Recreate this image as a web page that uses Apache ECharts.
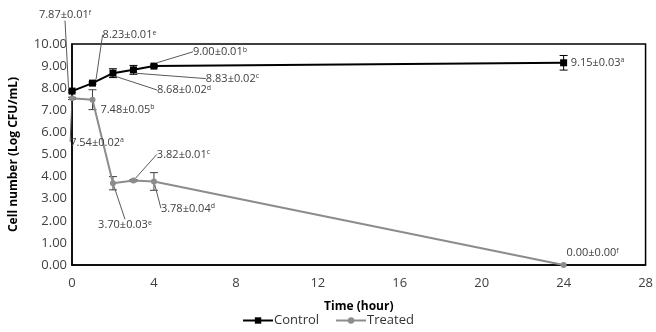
<!DOCTYPE html>
<html>
<head>
<meta charset="utf-8">
<script src="https://cdn.jsdelivr.net/npm/echarts@6/dist/echarts.min.js"></script>
<style>
  html, body { margin: 0; padding: 0; background: #fff; }
  #chart { width: 656px; height: 332px; }
</style>
</head>
<body>
<div id="chart"></div>
<script>
// time points (hour)
const hours = [0, 1, 2, 3, 4, 24]

// Control
const controlValues = [7.87, 8.23, 8.68, 8.83, 9.00, 9.15]
const controlErr = [0.05, 0.05, 0.2, 0.2, 0.05, 0.33]
const controlLabels = ['7.87±0.01', '8.23±0.01', '8.68±0.02', '8.83±0.02', '9.00±0.01', '9.15±0.03']
const controlLetters = ['f', 'e', 'd', 'c', 'b', 'a']

// Treated
const treatedValues = [7.54, 7.48, 3.70, 3.82, 3.78, 0.00]
const treatedErr = [0.05, 0.45, 0.3, 0.05, 0.4, 0]
const treatedLabels = ['7.54±0.02', '7.48±0.05', '3.70±0.03', '3.82±0.01', '3.78±0.04', '0.00±0.00']
const treatedLetters = ['a', 'b', 'e', 'c', 'd', 'f']

// label offsets from the point (px) - layout only
const controlOffsets = [[-7, -76], [37, -48], [71, 17], [99, 9], [66, -14], [34, 0]]
const treatedOffsets = [[25, 44], [35, 10], [12, 42], [50, -26], [34, 27], [29, -12]]
const controlLeader = [true, true, true, true, true, false]
const treatedLeader = [true, false, true, true, true, false]

const FONT = 'Open Sans'
const textColor = '#404040'

function buildData(values, labels, letters, leader) {
  return values.map((v, i) => ({
    value: [hours[i], v],
    label: {
      formatter: '{v|' + labels[i] + '}{s|' + letters[i] + '}'
    },
    labelLine: { show: leader[i] }
  }))
}

function errorSeries(name, values, errs, color) {
  return {
    name: name + ' err',
    type: 'custom',
    z: 1,
    silent: true,
    data: values.map((v, i) => [hours[i], v, errs[i]]),
    renderItem(params, api) {
      const x = api.value(0)
      const y = api.value(1)
      const e = api.value(2)
      if (!e) return null
      const hi = api.coord([x, y + e])
      const lo = api.coord([x, y - e])
      const w = 4
      const style = { stroke: color, lineWidth: 1 }
      return {
        type: 'group',
        children: [
          { type: 'line', shape: { x1: hi[0], y1: hi[1], x2: lo[0], y2: lo[1] }, style },
          { type: 'line', shape: { x1: hi[0] - w, y1: hi[1], x2: hi[0] + w, y2: hi[1] }, style },
          { type: 'line', shape: { x1: lo[0] - w, y1: lo[1], x2: lo[0] + w, y2: lo[1] }, style }
        ]
      }
    }
  }
}

function labelStyle() {
  return {
    show: true,
    position: 'inside',
    color: textColor,
    fontFamily: FONT,
    rich: {
      v: { fontSize: 11, fontFamily: FONT, color: textColor },
      s: { fontSize: 7, fontFamily: FONT, color: textColor, verticalAlign: 'top', padding: [0, 0, 5, 0] }
    }
  }
}

const chart = echarts.init(document.getElementById('chart'))

const option = {
  animation: false,
  textStyle: { fontFamily: FONT },
  grid: { left: 72, right: 8, top: 44, bottom: 67, show: true, borderColor: '#000', borderWidth: 1.5 },
  legend: {
    bottom: 0,
    left: 'center',
    itemWidth: 30,
    itemHeight: 8,
    itemGap: 16,
    data: ['Control', 'Treated'],
    textStyle: { fontFamily: FONT, fontSize: 13, color: '#333', padding: [0, 0, 0, -4] }
  },
  xAxis: {
    type: 'value',
    min: 0,
    max: 28,
    interval: 4,
    name: 'Time (hour)',
    nameLocation: 'middle',
    nameGap: 36,
    nameTextStyle: { fontFamily: FONT, fontWeight: 'bold', fontSize: 12, color: '#000' },
    axisLine: { show: true, lineStyle: { color: '#000', width: 1.5 } },
    axisTick: { show: false },
    splitLine: { show: false },
    axisLabel: { fontFamily: FONT, fontSize: 13, color: textColor, margin: 12 }
  },
  yAxis: {
    type: 'value',
    min: 0,
    max: 10,
    interval: 1,
    name: 'Cell number (Log CFU/mL)',
    nameLocation: 'middle',
    nameGap: 52,
    nameTextStyle: { fontFamily: FONT, fontWeight: 'bold', fontSize: 12, color: '#000' },
    axisLine: { show: true, lineStyle: { color: '#000', width: 1.5 } },
    axisTick: { show: false },
    splitLine: { show: false },
    axisLabel: {
      fontFamily: FONT, fontSize: 13, color: textColor, margin: 5,
      formatter: v => v.toFixed(2)
    }
  },
  series: [
    errorSeries('Control', controlValues, controlErr, '#000'),
    errorSeries('Treated', treatedValues, treatedErr, '#404040'),
    {
      name: 'Control',
      type: 'line',
      z: 3,
      symbol: 'rect',
      symbolSize: 7,
      itemStyle: { color: '#000' },
      lineStyle: { color: '#000', width: 2 },
      data: buildData(controlValues, controlLabels, controlLetters, controlLeader),
      label: labelStyle(),
      labelLine: { show: true, lineStyle: { color: '#595959', width: 1 } },
      labelLayout: p => ({ dx: controlOffsets[p.dataIndex][0], dy: controlOffsets[p.dataIndex][1] })
    },
    {
      name: 'Treated',
      type: 'line',
      z: 2,
      symbol: 'circle',
      symbolSize: 6,
      itemStyle: { color: '#8c8c8c' },
      lineStyle: { color: '#8c8c8c', width: 2 },
      data: buildData(treatedValues, treatedLabels, treatedLetters, treatedLeader),
      label: labelStyle(),
      labelLine: { show: true, lineStyle: { color: '#595959', width: 1 } },
      labelLayout: p => ({ dx: treatedOffsets[p.dataIndex][0], dy: treatedOffsets[p.dataIndex][1] })
    }
  ]
}

chart.setOption(option)
</script>
</body>
</html>
